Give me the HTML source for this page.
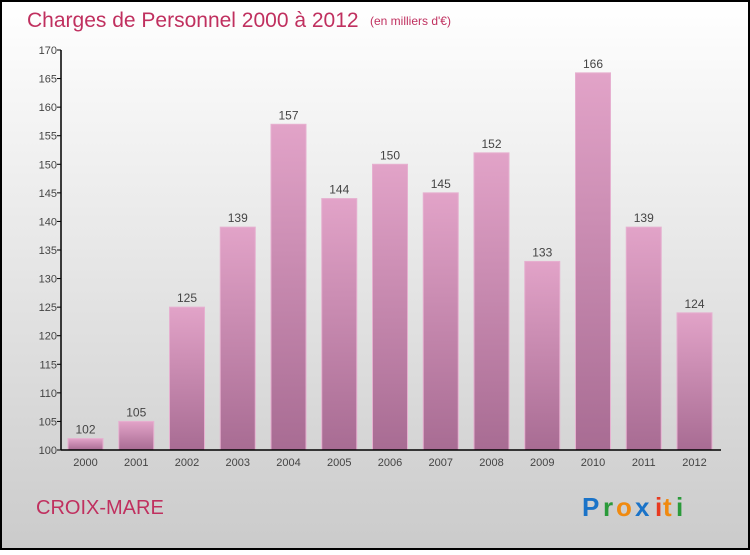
<!DOCTYPE html>
<html><head><meta charset="utf-8"><style>
html,body{margin:0;padding:0}
body{width:750px;height:550px;overflow:hidden;font-family:"Liberation Sans",sans-serif}
</style></head><body>
<svg width="750" height="550" viewBox="0 0 750 550">
<defs>
<linearGradient id="bg" x1="0" y1="0" x2="0" y2="1"><stop offset="0" stop-color="#ffffff"/><stop offset="1" stop-color="#cbcbcb"/></linearGradient>
<linearGradient id="bar" x1="0" y1="0" x2="0" y2="1"><stop offset="0" stop-color="#e2a3c8"/><stop offset="1" stop-color="#a86c93"/></linearGradient>
</defs>
<rect x="1" y="1" width="748" height="548" fill="url(#bg)" stroke="#000" stroke-width="2"/>
<text x="27" y="27" font-size="21" fill="#c0305f">Charges de Personnel 2000 à 2012</text>
<text x="370" y="25" font-size="12" fill="#c0305f">(en milliers d'€)</text>
<g id="plot"></g>
<text x="36" y="514" font-size="20" fill="#c0305f">CROIX-MARE</text>
<g font-size="26" font-weight="bold" font-family="'Liberation Sans',sans-serif">
<text x="582" y="516" fill="#1a73c8">P</text><text x="603" y="516" fill="#2a9a3a">r</text><text x="616" y="516" fill="#f08a10">o</text><text x="635" y="516" fill="#1a73c8">x</text><text x="655" y="516" fill="#e83a20">i</text><text x="663" y="516" fill="#f08a10">t</text><text x="676" y="516" fill="#2a9a3a">i</text>
</g>
</svg>
<script>
const categories=["2000","2001","2002","2003","2004","2005","2006","2007","2008","2009","2010","2011","2012"];
const values=[102,105,125,139,157,144,150,145,152,133,166,139,124];
const yTicks=[100,105,110,115,120,125,130,135,140,145,150,155,160,165,170];
const NS="http://www.w3.org/2000/svg";
const g=document.getElementById('plot');
const y=v=>450-(v-100)*400/70;
const x=i=>85.5+i*50.75;
function mk(t,a){const e=document.createElementNS(NS,t);for(const k in a)e.setAttribute(k,a[k]);g.appendChild(e);return e;}
yTicks.forEach(t=>{
 const l=mk('line',{x1:57,x2:61,y1:y(t),y2:y(t),stroke:'#000'});
 
 
 const tx=mk('text',{x:57,y:y(t)+4,'font-size':11,fill:'#444','text-anchor':'end'});
 tx.textContent=t;
 
 
});
categories.forEach((c,i)=>{
 const v=values[i];
 const r=mk('rect',{x:x(i)-17.5,y:y(v),width:35,height:450-y(v),fill:'url(#bar)',stroke:'#e6b0d0','stroke-width':1});
 
 
 const vt=mk('text',{x:x(i),y:y(v)-5,'font-size':12,fill:'#444','text-anchor':'middle'});
 vt.textContent=v;
 
 
 const ct=mk('text',{x:x(i),y:466,'font-size':11,fill:'#444','text-anchor':'middle'});
 ct.textContent=c;
 
 
});
const ya=mk('line',{x1:61,x2:61,y1:50,y2:450,stroke:'#000','stroke-width':1.5});


const xa=mk('line',{x1:61,x2:721,y1:450,y2:450,stroke:'#000','stroke-width':1.5});


</script>
</body></html>
